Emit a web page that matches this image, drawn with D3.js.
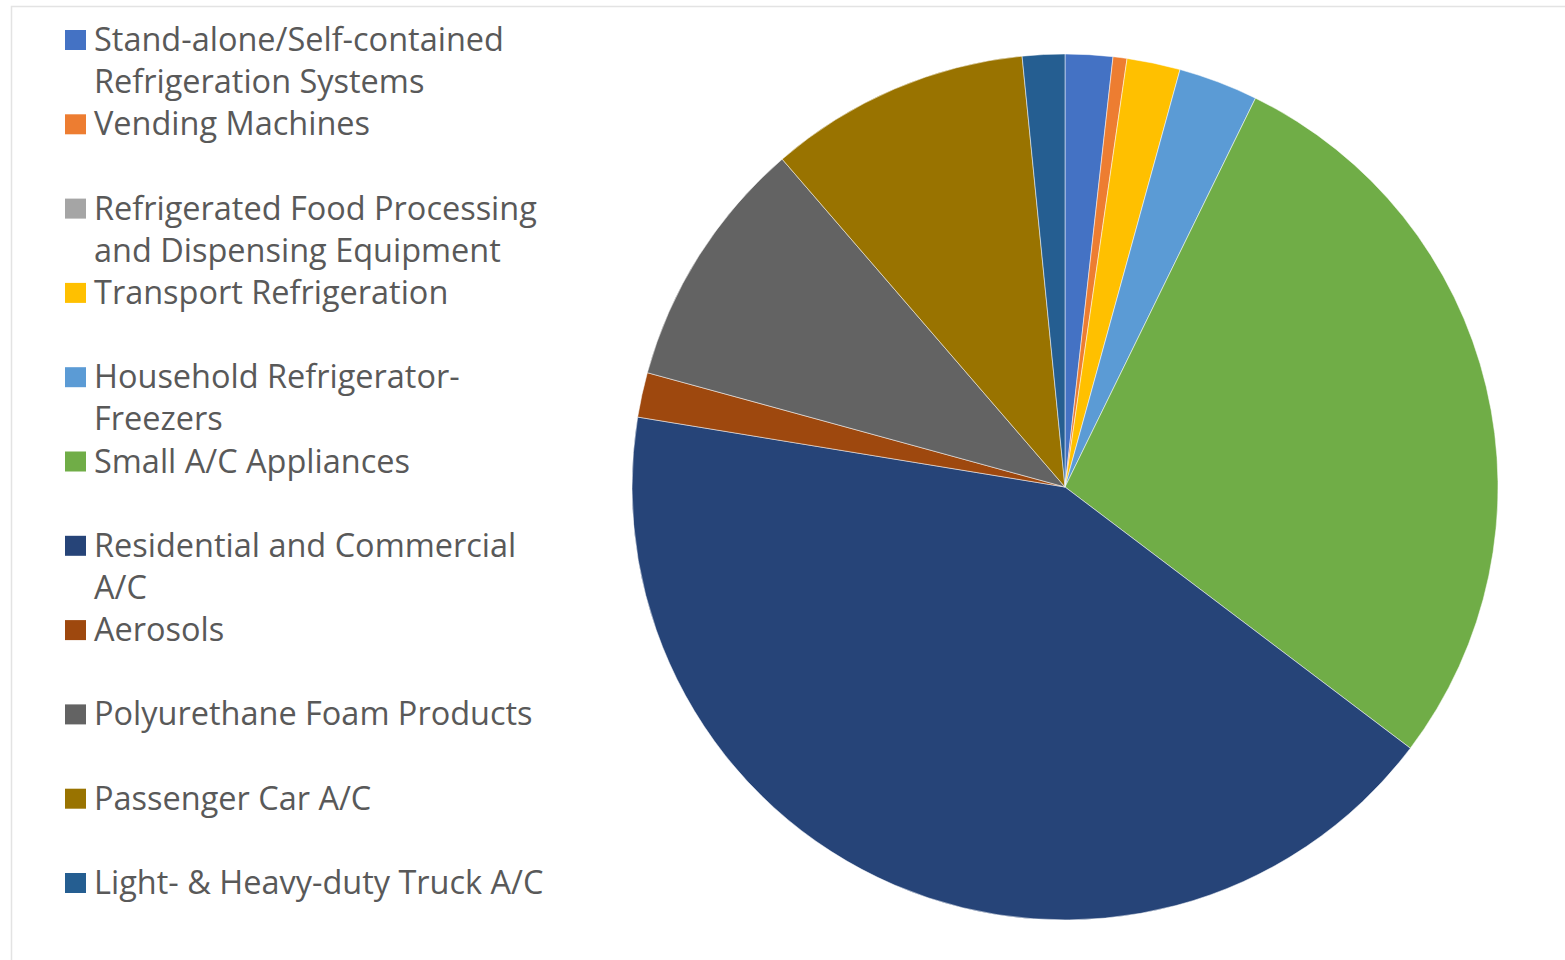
<!DOCTYPE html>
<html>
<head>
<meta charset="utf-8">
<script src="https://cdn.jsdelivr.net/npm/d3@7"></script>
<style>
  body { margin: 0; background: #fff; }
  svg { display: block; }
  .legend text { font-family: "Open Sans", sans-serif; fill: #595959; }
</style>
</head>
<body>
<svg width="1565" height="960"></svg>
<script>
  // end-use categories (legend order = slice order, clockwise from 12 o'clock)
  var categories = [
    'Stand-alone/Self-contained Refrigeration Systems',
    'Vending Machines',
    'Refrigerated Food Processing and Dispensing Equipment',
    'Transport Refrigeration',
    'Household Refrigerator-Freezers',
    'Small A/C Appliances',
    'Residential and Commercial A/C',
    'Aerosols',
    'Polyurethane Foam Products',
    'Passenger Car A/C',
    'Light- & Heavy-duty Truck A/C'
  ];
  // wrapped legend lines, as shown in the chart
  var legendLines = [
    ['Stand-alone/Self-contained', 'Refrigeration Systems'],
    ['Vending Machines'],
    ['Refrigerated Food Processing', 'and Dispensing Equipment'],
    ['Transport Refrigeration'],
    ['Household Refrigerator-', 'Freezers'],
    ['Small A/C Appliances'],
    ['Residential and Commercial', 'A/C'],
    ['Aerosols'],
    ['Polyurethane Foam Products'],
    ['Passenger Car A/C'],
    ['Light- & Heavy-duty Truck A/C']
  ];
  // share of total (%)
  var shares = [1.77, 0.52, 0, 1.99, 2.97, 28.06, 42.28, 1.67, 9.42, 9.75, 1.58];
  var colors = ['#4472C4', '#ED7D31', '#A5A5A5', '#FFC000', '#5B9BD5', '#70AD47',
                '#264478', '#9E480E', '#636363', '#997300', '#255E91'];

  var data = categories.map(function (c, i) {
    return { name: c, value: shares[i], lines: legendLines[i], color: colors[i] };
  });

  var svg = d3.select('svg');

  // chart area border (only top and left show inside the window)
  svg.append('path')
    .attr('d', 'M11.5,960 V6.5 H1565')
    .attr('fill', 'none')
    .attr('stroke', '#e3e3e3')
    .attr('stroke-width', 1.5);

  var cx = 1065, cy = 487, radius = 433;

  var pie = d3.pie().sort(null).value(function (d) { return d.value; });
  var arc = d3.arc().innerRadius(0).outerRadius(radius);

  svg.append('g')
    .attr('transform', 'translate(' + cx + ',' + cy + ')')
    .selectAll('path')
    .data(pie(data).filter(function (d) { return d.data.value > 0; }))
    .enter().append('path')
      .attr('d', arc)
      .attr('fill', function (d) { return d.data.color; })
      .attr('stroke', '#fff')
      .attr('stroke-opacity', 0.5)
      .attr('stroke-width', 1);

  // legend
  var legendY = d3.scaleLinear().domain([0, data.length - 1]).range([51, 894]);
  var lineGap = 42;

  var legend = svg.append('g').attr('class', 'legend');

  // fit the font so the longest first line matches the picture width
  var probe = legend.append('text').attr('font-size', 100).text('Stand-alone/Self-contained');
  var fontSize = 100 * 410 / probe.node().getComputedTextLength();
  probe.remove();

  var item = legend.selectAll('g.item')
    .data(data)
    .enter().append('g')
      .attr('class', 'item')
      .attr('transform', function (d, i) { return 'translate(0,' + legendY(i) + ')'; });

  item.append('rect')
    .attr('x', 65)
    .attr('y', -21)
    .attr('width', 21)
    .attr('height', 20)
    .attr('fill', function (d) { return d.color; });

  item.append('text')
    .attr('font-size', fontSize)
    .selectAll('tspan')
    .data(function (d) { return d.lines; })
    .enter().append('tspan')
      .attr('x', 94)
      .attr('y', function (d, j) { return j * lineGap; })
      .text(function (d) { return d; });
</script>
</body>
</html>
